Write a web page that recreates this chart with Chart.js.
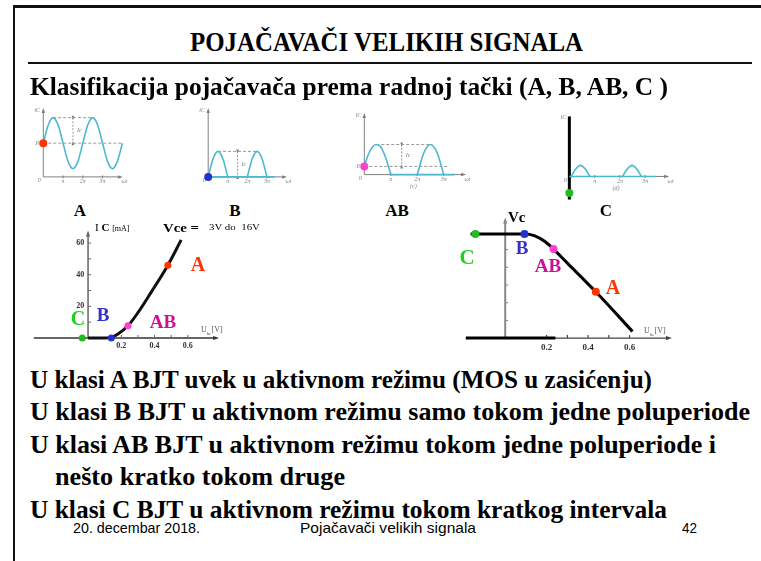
<!DOCTYPE html>
<html>
<head>
<meta charset="utf-8">
<script src="https://cdn.jsdelivr.net/npm/chart.js@4.4.1/dist/chart.umd.min.js"></script>
<style>
  body { margin: 0; background: #fff; }
  #slide { position: relative; width: 761px; height: 561px; overflow: hidden; font-family: "Liberation Serif", "Times New Roman", serif; }
  .t { position: absolute; white-space: nowrap; font-weight: bold; line-height: 1; transform-origin: 0 50%; color: #000; }
  .ln { position: absolute; background: #111; }
  canvas { position: absolute; }
</style>
</head>
<body>
<div id="slide">
  <div class="ln" style="left:13px;top:5px;width:748px;height:3px"></div>
  <div class="ln" style="left:13px;top:5px;width:2px;height:556px"></div>
  <div class="ln" style="left:28px;top:62px;width:724px;height:2px"></div>
</div>
<script>
// talasni oblici struje kolektora, faza u jedinicama pi
const tA = [0, 0.25, 0.5, 0.75, 1, 1.25, 1.5, 1.75, 2, 2.25, 2.5, 2.75, 3, 3.25, 3.5, 3.75, 4]
const iA = [37, 57, 65, 57, 37, 17, 9, 17, 37, 57, 65, 57, 37, 17, 9, 17, 37]

const tB1 = [0, 0.25, 0.5, 0.75, 1]
const tB2 = [2, 2.25, 2.5, 2.75, 3]
const iB = [0, 20, 28, 20, 0]
const tB0 = [0, 3.4]

const tAB1 = [0, 0.15, 0.3, 0.45, 0.6, 0.8, 1]
const iAB1 = [9, 22, 30, 33, 31, 19, 0]
const tAB2 = [2, 2.25, 2.5, 2.75, 3]
const iAB2 = [0, 24, 33, 24, 0]
const tAB0 = [1, 3.4]

const tC1 = [0.07, 0.25, 0.44, 0.63, 0.81]
const tC2 = [2.1, 2.29, 2.48, 2.67, 2.85]
const iC = [0, 8, 12, 8, 0]
const tC0 = [0, 3.4]
const iCq = -18

const piTicks = [1, 2, 3]
const piLabels = ['π', '2π', '3π']

// Ic(Ube)
const ubeIc = [0, 0.10, 0.14, 0.18, 0.24, 0.30, 0.38, 0.48, 0.56]
const ic = [0, 0, 0.4, 2.5, 7.7, 16, 29, 46, 62]
const ubeIcQ = [-0.035, 0.14, 0.24, 0.48]
const icQ = [0, 0, 7.7, 46]
const icTicks = [10, 20, 30, 40, 50, 60]
const icLabels = [20, 40, 60]

// Vc(Ube)
const ubeVc = [-0.167, 0.093, 0.14, 0.19, 0.233, 0.3, 0.437, 0.614]
const vc = [10, 10, 9.85, 9.3, 8.55, 7.2, 4.45, 0.64]
const ubeVcQ = [-0.144, 0.093, 0.233, 0.437]
const vcQ = [10, 10, 8.55, 4.45]
const ubeVcOff = [-0.19, 0.242]
const vcTicks = [1.7, 3.4, 5.1, 6.8, 8.5]

const ubeTicks = [0.2, 0.3, 0.4, 0.5, 0.6]
const ubeLabels = [0.2, 0.4, 0.6]

// boje radnih tacaka C, B, AB, A
const qColors = ['#22bb22', '#2233cc', '#ff3fcf', '#ff3300']

const slide = document.getElementById('slide')
const zip = (xs, ys) => xs.map((x, i) => ({ x, y: Array.isArray(ys) ? ys[i] : ys }))

const curve = (data, color, width) => ({
  data, showLine: true, borderColor: color, borderWidth: width, pointRadius: 0,
  cubicInterpolationMode: 'monotone', fill: false
})
const straight = (data, color, width) => ({
  data, showLine: true, borderColor: color, borderWidth: width, pointRadius: 0, tension: 0, fill: false
})
const dots = (data, colors, r) => ({
  data, showLine: false, pointRadius: r, pointBackgroundColor: colors, pointBorderWidth: 0
})

function plot(box, xr, yr, datasets, draw) {
  const c = document.createElement('canvas')
  c.width = box[2]; c.height = box[3]
  c.style.left = box[0] + 'px'; c.style.top = box[1] + 'px'
  slide.appendChild(c)
  return new Chart(c, {
    type: 'scatter',
    data: { datasets },
    options: {
      responsive: false, animation: false, events: [],
      layout: { padding: 0 },
      plugins: { legend: { display: false }, tooltip: { enabled: false } },
      scales: {
        x: { type: 'linear', display: false, min: xr[0], max: xr[1] },
        y: { type: 'linear', display: false, min: yr[0], max: yr[1] }
      }
    },
    plugins: [{
      id: 'crtez',
      beforeDatasetsDraw(ch) {
        const X = v => ch.scales.x.getPixelForValue(v)
        const Y = v => ch.scales.y.getPixelForValue(v)
        ch.ctx.save(); draw(ch.ctx, X, Y); ch.ctx.restore()
      }
    }]
  })
}

function seg(ctx, x1, y1, x2, y2, dash) {
  ctx.setLineDash(dash || [])
  ctx.beginPath(); ctx.moveTo(x1, y1); ctx.lineTo(x2, y2); ctx.stroke()
  ctx.setLineDash([])
}
function head(ctx, x, y, dir, s) {
  s = s || 3
  ctx.beginPath()
  if (dir === 'r') { ctx.moveTo(x + s, y); ctx.lineTo(x - s, y - s * 0.7); ctx.lineTo(x - s, y + s * 0.7) }
  if (dir === 'u') { ctx.moveTo(x, y - s); ctx.lineTo(x - s * 0.7, y + s); ctx.lineTo(x + s * 0.7, y + s) }
  if (dir === 'd') { ctx.moveTo(x, y + s); ctx.lineTo(x - s * 0.7, y - s); ctx.lineTo(x + s * 0.7, y - s) }
  ctx.closePath(); ctx.fill()
}
function label(ctx, s, x, y, font, align) {
  ctx.font = font; ctx.textAlign = align || 'center'; ctx.textBaseline = 'middle'
  ctx.fillText(s, x, y)
}

// zajednicki crtez osa za talasne oblike
function waveAxes(ctx, X, Y, o) {
  const g = '#808080'
  const f = 'italic 6px "Liberation Serif"'
  ctx.strokeStyle = g; ctx.fillStyle = g; ctx.lineWidth = 1
  seg(ctx, X(0), Y(0), X(o.xEnd), Y(0))
  head(ctx, X(o.xEnd), Y(0), 'r', 2.5)
  if (o.yTop) {
    seg(ctx, X(0), Y(0), X(0), Y(o.yTop))
    head(ctx, X(0), Y(o.yTop), 'u', 2.5)
  }
  piTicks.forEach((t, i) => {
    seg(ctx, X(t), Y(0) - 1.5, X(t), Y(0) + 1.5)
    label(ctx, piLabels[i], X(t), Y(0) + 5, f)
  })
  label(ctx, '0', X(0) - 4, Y(0) + 4, f)
  label(ctx, 'ωt', X(o.xEnd) + 1, Y(0) + 5, f, 'left')
  label(ctx, 'iC', X(0) - 6, Y(o.yLabel), f)
  ctx.strokeStyle = '#999'
  ;(o.dash || []).forEach(d => seg(ctx, X(d[0]), Y(d[1]), X(d[2]), Y(d[3]), [3, 2]))
  if (o.arrow) {
    const a = o.arrow
    seg(ctx, X(a[0]), Y(a[1]), X(a[0]), Y(a[2]), [2, 1.5])
    head(ctx, X(a[0]), Y(a[1]), 'd', 2); head(ctx, X(a[0]), Y(a[2]), 'u', 2)
    label(ctx, 'Ic', X(a[0]) + 4, Y((a[1] + a[2]) / 2), f, 'left')
  }
  if (o.ic) label(ctx, 'IC', X(0) - 5, Y(o.ic), f)
  if (o.tag) label(ctx, o.tag, X(1.85), Y(0) + 12, f)
}

const wc = '#4db8d0'

// A
const peakA = Math.max(...iA), baseA = iA[0]
plot([30, 100, 110, 90], [-0.47, 4.69], [-10, 80], [
  dots([{ x: 0, y: baseA }], qColors[3], 4),
  curve(zip(tA, iA), wc, 1.6)
], (ctx, X, Y) => waveAxes(ctx, X, Y, {
  xEnd: 3.9, yTop: 73, yLabel: 73,
  dash: [[0, baseA, 4, baseA], [0.5, peakA, 2.5, peakA]],
  arrow: [1.5, peakA, baseA], ic: baseA
}))

// B
const peakB = Math.max(...iB)
plot([195, 100, 100, 90], [-0.47, 4.23], [-10, 80], [
  dots([{ x: 0, y: 0 }], qColors[1], 4),
  curve(zip(tB1, iB), wc, 1.6),
  curve(zip(tB2, iB), wc, 1.6),
  straight(zip(tB0, 0), wc, 1.6)
], (ctx, X, Y) => waveAxes(ctx, X, Y, {
  xEnd: 3.9, yTop: 73, yLabel: 73,
  dash: [[0.5, peakB, 2.5, peakB]],
  arrow: [1.5, peakB, 0]
}))

// AB
const peakAB = Math.max(...iAB2), baseAB = iAB1[0]
plot([350, 105, 125, 90], [-0.39, 4.03], [-18, 72], [
  dots([{ x: 0, y: baseAB }], qColors[2], 4),
  curve(zip(tAB1, iAB1), wc, 1.6),
  curve(zip(tAB2, iAB2), wc, 1.6),
  straight(zip(tAB0, 0), wc, 1.6)
], (ctx, X, Y) => waveAxes(ctx, X, Y, {
  xEnd: 3.75, yTop: 65, yLabel: 65,
  dash: [[0, baseAB, 3.2, baseAB], [0.45, peakAB, 2.5, peakAB]],
  arrow: [1.41, peakAB, baseAB], ic: baseAB, tag: '(c)'
}))

// C
plot([555, 105, 125, 105], [-0.41, 4.22], [-32, 73], [
  dots([{ x: 0, y: iCq }], qColors[0], 4),
  curve(zip(tC1, iC), wc, 1.6),
  curve(zip(tC2, iC), wc, 1.6),
  straight(zip(tC0, 0), wc, 1.6)
], (ctx, X, Y) => {
  waveAxes(ctx, X, Y, { xEnd: 3.85, yLabel: 64, tag: '(d)' })
  ctx.strokeStyle = '#000'; ctx.fillStyle = '#000'; ctx.lineWidth = 3
  seg(ctx, X(0), Y(-25), X(0), Y(65))
})

// Ic(Ube)
plot([28, 222, 240, 135], [-0.337, 1.058], [-9.5, 70.8], [
  dots(zip(ubeIcQ, icQ), qColors, 3.5),
  curve(zip(ubeIc, ic), '#111', 3)
], (ctx, X, Y) => {
  const f = 'bold 8px "Liberation Serif"'
  ctx.strokeStyle = '#333'; ctx.fillStyle = '#333'; ctx.lineWidth = 1.5
  seg(ctx, X(-0.326), Y(0), X(0.77), Y(0))
  head(ctx, X(0.77), Y(0), 'r', 3)
  ctx.strokeStyle = '#666'; ctx.fillStyle = '#666'
  seg(ctx, X(0), Y(0), X(0), Y(66))
  head(ctx, X(0), Y(66), 'u', 3)
  ctx.lineWidth = 1
  icTicks.forEach(v => seg(ctx, X(0), Y(v), X(0) + 3, Y(v)))
  ubeTicks.forEach(v => seg(ctx, X(v), Y(0), X(v), Y(0) - 3))
  ctx.fillStyle = '#333'
  icLabels.forEach(v => label(ctx, String(v), X(-0.047), Y(v), f))
  ubeLabels.forEach(v => label(ctx, v.toFixed(1), X(v), Y(0) + 8, f))
})

// Vc(Ube)
plot([455, 212, 220, 150], [-0.223, 0.8], [-1.91, 11.73], [
  dots(zip(ubeVcQ, vcQ), qColors, 4),
  curve(zip(ubeVc, vc), '#000', 3),
  straight(zip(ubeVcOff, 0), '#000', 3)
], (ctx, X, Y) => {
  const f = 'bold 9px "Liberation Serif"'
  ctx.strokeStyle = '#444'; ctx.fillStyle = '#444'; ctx.lineWidth = 1.2
  seg(ctx, X(0), Y(0), X(0.79), Y(0))
  head(ctx, X(0.79), Y(0), 'r', 3)
  ubeTicks.forEach(v => seg(ctx, X(v), Y(0), X(v), Y(0) - 3))
  ctx.strokeStyle = '#888'; ctx.fillStyle = '#888'; ctx.lineWidth = 2
  seg(ctx, X(0), Y(0), X(0), Y(11.3))
  head(ctx, X(0), Y(11.3), 'u', 3)
  ctx.lineWidth = 1
  vcTicks.forEach(v => seg(ctx, X(0), Y(v), X(0) + 3, Y(v)))
  ctx.fillStyle = '#333'
  ubeLabels.forEach(v => label(ctx, v.toFixed(1), X(v), Y(0) + 10, f))
})

// tekst slajda
function text(s, x, y, size, w, opt) {
  opt = opt || {}
  const e = document.createElement('div')
  e.className = 't'
  e.innerHTML = s
  e.style.fontSize = size + 'px'
  e.style.top = (y - size * 0.52) + 'px'
  if (opt.color) e.style.color = opt.color
  if (opt.sans) e.style.fontFamily = '"Liberation Sans Narrow", "Liberation Sans", Arial, sans-serif'
  if (opt.normal) e.style.fontWeight = 'normal'
  slide.appendChild(e)
  const nat = e.getBoundingClientRect().width
  const k = w ? w / nat : 1
  e.style.transform = 'scaleX(' + k + ')'
  e.style.left = (opt.center ? x - nat * k / 2 : x) + 'px'
}

text('POJAČAVAČI VELIKIH SIGNALA', 386, 43, 27, 393, { center: true })
text('Klasifikacija pojačavača prema radnoj tački (A, B, AB, C )', 30, 88, 26, 638)

text('A', 80, 211, 17, 0, { center: true })
text('B', 235, 211, 17, 0, { center: true })
text('AB', 397, 211, 17, 0, { center: true })
text('C', 606, 211, 17, 0, { center: true })

text('<span style="font-weight:normal">I</span> C <span style="font-size:8px;font-weight:normal">[mA]</span>', 95, 228, 11, 0)
text('Vce =', 163, 228, 13, 36)
text('3V do&nbsp; 16V', 209, 228, 9, 51, { normal: true })
text('U<sub style="font-size:5px">be</sub>[V]', 201, 330, 8, 0, { normal: true, color: '#555' })
text('A', 198, 264, 20, 0, { center: true, color: '#ff3300' })
text('B', 103, 315, 19, 0, { center: true, color: '#3333cc' })
text('C', 78, 318, 20, 0, { center: true, color: '#22cc22' })
text('AB', 163, 322, 19, 0, { center: true, color: '#cc1199' })

text('Vc', 508, 218, 15, 0)
text('U<sub style="font-size:5px">be</sub>[V]', 644, 331, 8, 0, { normal: true, color: '#555' })
text('C', 467, 258, 21, 0, { center: true, color: '#22cc22' })
text('B', 522, 248, 19, 0, { center: true, color: '#3333cc' })
text('AB', 548, 266, 19, 0, { center: true, color: '#cc1199' })
text('A', 613, 287, 20, 0, { center: true, color: '#ff3300' })

text('U klasi A BJT uvek u aktivnom režimu (MOS u zasićenju)', 30, 381, 26, 622)
text('U klasi B BJT u aktivnom režimu samo tokom jedne poluperiode', 30, 413, 26, 720)
text('U klasi AB BJT u aktivnom režimu tokom jedne poluperiode i', 30, 446, 26, 686)
text('nešto kratko tokom druge', 55, 478, 26, 290)
text('U klasi C BJT u aktivnom režimu tokom kratkog intervala', 30, 511, 26, 637)

text('20. decembar 2018.', 73, 528, 15, 127, { sans: true, normal: true })
text('Pojačavači velikih signala', 300, 528, 15, 176, { sans: true, normal: true })
text('42', 682, 528, 15, 15, { sans: true, normal: true })
</script>
</body>
</html>
